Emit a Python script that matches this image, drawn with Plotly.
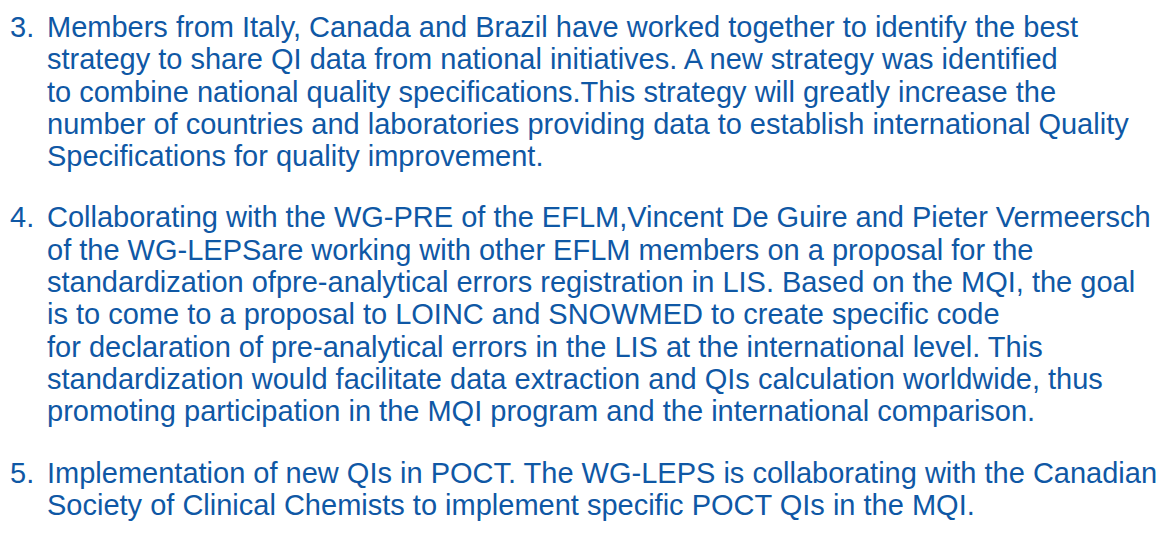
import plotly.graph_objects as go

W, H = 1176, 555

item_numbers = ["3.", "4.", "5."]
item_lines = [
    [
        "Members from Italy, Canada and Brazil have worked together to identify the best",
        "strategy to share QI data from national initiatives. A new strategy was identified",
        "to combine national quality specifications.This strategy will greatly increase the",
        "number of countries and laboratories providing data to establish international Quality",
        "Specifications for quality improvement.",
    ],
    [
        "Collaborating with the WG-PRE of the EFLM,Vincent De Guire and Pieter Vermeersch",
        "of the WG-LEPSare working with other EFLM members on a proposal for the",
        "standardization ofpre-analytical errors registration in LIS. Based on the MQI, the goal",
        "is to come to a proposal to LOINC and SNOWMED to create specific code",
        "for declaration of pre-analytical errors in the LIS at the international level. This",
        "standardization would facilitate data extraction and QIs calculation worldwide, thus",
        "promoting participation in the MQI program and the international comparison.",
    ],
    [
        "Implementation of new QIs in POCT. The WG-LEPS is collaborating with the Canadian",
        "Society of Clinical Chemists to implement specific POCT QIs in the MQI.",
    ],
]

BLUE = "#0f58a5"
FONT = dict(family="Liberation Sans, Arial, sans-serif", size=29, color=BLUE)

# the page body adds an 8px margin, so positions are shifted back by that
first_line_y = 19
line_step = 32.3
para_gap = 29
num_x = 0
text_x = 37

fig = go.Figure()
annotations = []
y = first_line_y
for num, lines in zip(item_numbers, item_lines):
    annotations.append(dict(
        x=num_x / W, y=1 - y / H, xref="paper", yref="paper",
        text=num, showarrow=False, xanchor="left", yanchor="middle", font=FONT,
    ))
    for line in lines:
        annotations.append(dict(
            x=text_x / W, y=1 - y / H, xref="paper", yref="paper",
            text=line, showarrow=False, xanchor="left", yanchor="middle", font=FONT,
        ))
        y += line_step
    y += para_gap

fig.update_layout(
    width=W, height=H,
    margin=dict(l=0, r=0, t=0, b=0),
    paper_bgcolor="white", plot_bgcolor="white",
    xaxis=dict(visible=False, range=[0, 1]),
    yaxis=dict(visible=False, range=[0, 1]),
    annotations=annotations,
    showlegend=False,
)
fig.write_html("out.html")
